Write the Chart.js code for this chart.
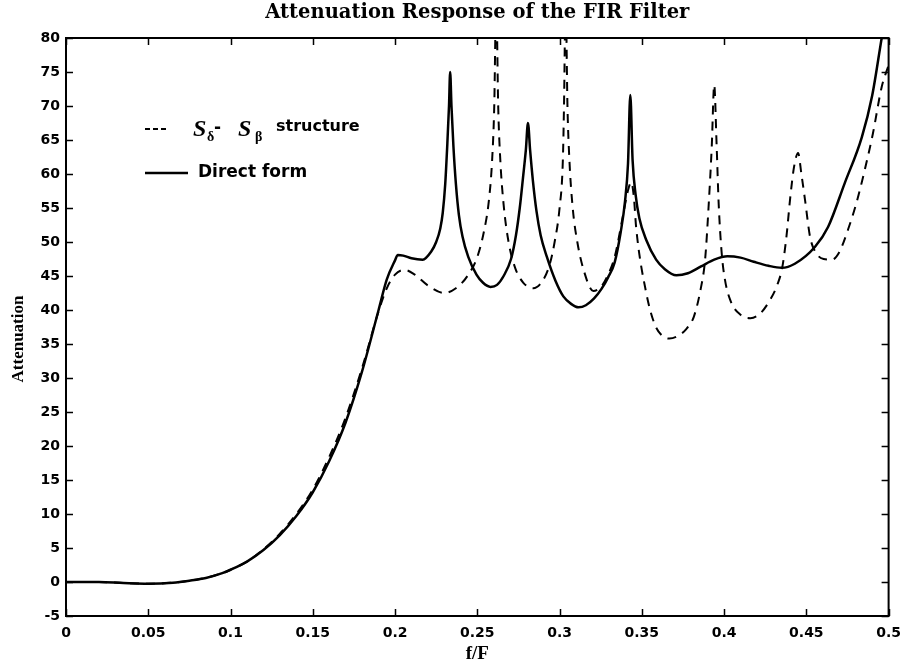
<!DOCTYPE html>
<html>
<head>
<meta charset="utf-8">
<title>Attenuation Response of the FIR Filter</title>
<script src="https://cdn.jsdelivr.net/npm/chart.js@4/dist/chart.umd.min.js"></script>
<style>
  html, body { margin: 0; padding: 0; background: #ffffff; }
  #wrap { width: 910px; height: 664px; }
</style>
</head>
<body>
<div id="wrap"><canvas id="chart" width="910" height="664"></canvas></div>
<script>
// Normalised frequency f/F and attenuation (dB) of the direct-form filter
const directFreq = [0, 0.02, 0.035, 0.05, 0.065, 0.075, 0.085, 0.095, 0.1, 0.11, 0.12, 0.13, 0.14, 0.15, 0.16, 0.17, 0.18, 0.19, 0.195, 0.2, 0.2017, 0.205, 0.21, 0.2168, 0.222, 0.225, 0.2275, 0.229, 0.2305, 0.2318, 0.2328, 0.2335, 0.2343, 0.2355, 0.237, 0.2388, 0.241, 0.2445, 0.2495, 0.2535, 0.258, 0.262, 0.266, 0.2705, 0.2735, 0.2758, 0.2778, 0.2795, 0.2808, 0.2821, 0.2838, 0.286, 0.2885, 0.2923, 0.2975, 0.3023, 0.307, 0.3115, 0.316, 0.321, 0.3255, 0.3295, 0.3335, 0.3372, 0.3398, 0.3416, 0.343, 0.3444, 0.3462, 0.3485, 0.3527, 0.3587, 0.364, 0.371, 0.378, 0.386, 0.394, 0.402, 0.41, 0.418, 0.427, 0.435, 0.443, 0.4553, 0.4632, 0.4734, 0.4837, 0.49, 0.4958, 0.5];
const directAtten = [0, 0, -0.15, -0.25, -0.1, 0.2, 0.6, 1.3, 1.8, 3.0, 4.7, 6.9, 9.7, 13.2, 17.8, 23.5, 31, 40, 44.5, 47.3, 48.1, 48, 47.6, 47.4, 48.6, 50, 52, 54.3, 58.5, 64.5, 70, 75, 70, 64, 58.5, 54, 50.8, 47.8, 45.2, 44, 43.4, 43.7, 45, 47.5, 51, 55, 59.5, 63.5, 67.5, 63.5, 59, 54.5, 51, 47.8, 44.3, 42, 40.9, 40.4, 40.7, 41.7, 43.1, 44.8, 47, 51.5, 56, 61.5, 71.6, 62, 57, 53.5, 50.3, 47.4, 46, 45.1, 45.4, 46.4, 47.4, 47.9, 47.7, 47.1, 46.5, 46.2, 46.8, 49.3, 52.2, 58.7, 65.4, 71.5, 80, 86];

// Normalised frequency f/F and attenuation (dB) of the S-delta / S-beta structure
const structFreq = [0, 0.02, 0.035, 0.05, 0.065, 0.075, 0.085, 0.095, 0.1, 0.11, 0.12, 0.13, 0.14, 0.15, 0.16, 0.17, 0.18, 0.19, 0.195, 0.2, 0.2057, 0.212, 0.22, 0.2299, 0.237, 0.244, 0.25, 0.254, 0.257, 0.259, 0.2603, 0.2615, 0.2627, 0.264, 0.266, 0.269, 0.273, 0.278, 0.284, 0.29, 0.294, 0.297, 0.3, 0.302, 0.3027, 0.3037, 0.3048, 0.306, 0.308, 0.3108, 0.3145, 0.3205, 0.3255, 0.3295, 0.3335, 0.3388, 0.3415, 0.3436, 0.3452, 0.3466, 0.3527, 0.3575, 0.362, 0.3667, 0.372, 0.377, 0.3816, 0.3857, 0.3885, 0.3907, 0.3925, 0.394, 0.3955, 0.3967, 0.3985, 0.4005, 0.404, 0.41, 0.416, 0.422, 0.428, 0.4325, 0.4354, 0.438, 0.4402, 0.4425, 0.445, 0.447, 0.4493, 0.4523, 0.4565, 0.4605, 0.4655, 0.47, 0.4753, 0.4805, 0.4855, 0.4905, 0.4958, 0.5];
const structAtten = [0, 0, -0.15, -0.25, -0.1, 0.2, 0.6, 1.3, 1.8, 3.0, 4.8, 7.1, 10, 13.6, 18.4, 24.2, 31.5, 39.8, 43.2, 45.2, 45.9, 45.2, 43.6, 42.5, 43.2, 45, 47.8, 51.5, 56, 62, 70, 86, 70, 62, 55.5, 50, 46.2, 44, 43.2, 44.4, 46.7, 50, 55, 62, 70, 86, 70, 62, 55, 50, 46, 42.8, 43.5, 45.2, 47.8, 54.2, 57.5, 58.8, 56.5, 52, 42.5, 38.1, 36.3, 35.8, 36.2, 37.2, 39, 43, 47.5, 55.7, 64, 73.1, 64, 55.7, 48.5, 44.5, 41.3, 39.3, 38.8, 39.5, 41.5, 43.8, 46.3, 51, 56.5, 61, 63.1, 60, 56, 50.7, 48.2, 47.5, 47.4, 48.5, 51.8, 55.8, 60.6, 66, 72.8, 76];

// Axis ranges and tick steps
const freqTicks = { min: 0, max: 0.5, step: 0.05 };
const attenTicks = { min: -5, max: 80, step: 5 };

const chartTitle = 'Attenuation Response of the FIR Filter';

const toPoints = (xs, ys) => xs.map((x, i) => ({ x, y: ys[i] }));

const SANS = '"DejaVu Sans", sans-serif';
const SERIF = '"Liberation Serif", "Times New Roman", serif';
const WIDE_SERIF = '"DejaVu Serif", "Liberation Serif", serif';

// Box around the plot area with inward-pointing tick marks on all four sides
const frameTicks = {
  id: 'frameTicks',
  afterDatasetsDraw(chart) {
    const { ctx, chartArea: a, scales: { x, y } } = chart;
    const L = 7;
    ctx.save();
    ctx.strokeStyle = '#000';
    ctx.lineWidth = 1.5;
    ctx.beginPath();
    x.ticks.forEach(t => {
      const px = Math.round(x.getPixelForValue(t.value)) + 0.5;
      ctx.moveTo(px, a.bottom); ctx.lineTo(px, a.bottom - L);
      ctx.moveTo(px, a.top); ctx.lineTo(px, a.top + L);
    });
    y.ticks.forEach(t => {
      const py = Math.round(y.getPixelForValue(t.value)) + 0.5;
      ctx.moveTo(a.left, py); ctx.lineTo(a.left + L, py);
      ctx.moveTo(a.right, py); ctx.lineTo(a.right - L, py);
    });
    ctx.stroke();
    ctx.lineWidth = 2;
    ctx.strokeRect(a.left, a.top, a.right - a.left, a.bottom - a.top);
    ctx.restore();
  }
};

// Title centred over the plot, the y-axis label, and the legend
// in the upper-left of the plot with sub-scripted symbols
const annotations = {
  id: 'annotations',
  afterDraw(chart) {
    const { ctx, chartArea: a } = chart;
    ctx.save();
    ctx.fillStyle = '#000';
    ctx.strokeStyle = '#000';

    // title
    ctx.textAlign = 'center';
    ctx.textBaseline = 'middle';
    ctx.font = 'bold 19.5px ' + WIDE_SERIF;
    ctx.fillText(chartTitle, (a.left + a.right) / 2, 13);
    ctx.textAlign = 'left';
    ctx.textBaseline = 'alphabetic';

    // row 1: dashed sample and S_delta - S_beta structure
    const y1 = 129;
    ctx.lineWidth = 2;
    ctx.setLineDash([5, 3]);
    ctx.beginPath(); ctx.moveTo(145, y1); ctx.lineTo(166, y1); ctx.stroke();
    ctx.setLineDash([]);
    ctx.font = 'italic bold 24px ' + SERIF;
    ctx.fillText('S', 193, y1 + 7);
    ctx.font = 'bold 14px ' + SERIF;
    ctx.fillText('\u03B4', 207, y1 + 12);
    ctx.font = 'bold 17px ' + SANS;
    ctx.fillText('-', 214, y1 + 4);
    ctx.font = 'italic bold 24px ' + SERIF;
    ctx.fillText('S', 238, y1 + 7);
    ctx.font = 'bold 14px ' + SERIF;
    ctx.fillText('\u03B2', 255, y1 + 12);
    ctx.font = 'bold 16px ' + SANS;
    ctx.fillText('structure', 276, y1 + 2);

    // row 2: solid sample and Direct form
    const y2 = 173;
    ctx.lineWidth = 2.5;
    ctx.beginPath(); ctx.moveTo(145, y2); ctx.lineTo(188, y2); ctx.stroke();
    ctx.font = 'bold 17px ' + SANS;
    ctx.textBaseline = 'middle';
    ctx.fillText('Direct form', 198, y2);

    // vertical axis label
    ctx.translate(19, 339);
    ctx.rotate(-Math.PI / 2);
    ctx.textAlign = 'center';
    ctx.textBaseline = 'middle';
    ctx.font = 'bold 17px ' + SERIF;
    ctx.fillText('Attenuation', 0, 0);
    ctx.restore();
  }
};

new Chart(document.getElementById('chart'), {
  type: 'line',
  data: {
    datasets: [
      {
        label: 'Direct form',
        data: toPoints(directFreq, directAtten),
        borderColor: '#000',
        borderWidth: 2.5,
        pointRadius: 0,
        cubicInterpolationMode: 'monotone',
        order: 0
      },
      {
        label: 'S\u03B4 - S\u03B2 structure',
        data: toPoints(structFreq, structAtten),
        borderColor: '#000',
        borderWidth: 2,
        borderDash: [9, 7],
        pointRadius: 0,
        cubicInterpolationMode: 'monotone',
        order: 1
      }
    ]
  },
  options: {
    responsive: false,
    devicePixelRatio: 1,
    animation: false,
    layout: { padding: { left: 0, right: 16, top: 38, bottom: 0 } },
    plugins: {
      legend: { display: false },
      tooltip: { enabled: false },
      title: { display: false }
    },
    scales: {
      x: {
        type: 'linear',
        min: freqTicks.min,
        max: freqTicks.max,
        grid: { display: false, drawTicks: false },
        border: { display: false },
        ticks: {
          stepSize: freqTicks.step,
          color: '#000',
          padding: 9,
          maxRotation: 0,
          autoSkip: false,
          font: { family: SANS, size: 14, weight: 'bold' },
          callback: v => String(+v.toFixed(2))
        },
        title: {
          display: true,
          text: 'f/F',
          color: '#000',
          font: { family: SERIF, size: 19, weight: 'bold', lineHeight: 1 },
          padding: { top: 0, bottom: 0 }
        },
        afterFit: s => { s.height = 48; }
      },
      y: {
        type: 'linear',
        min: attenTicks.min,
        max: attenTicks.max,
        grid: { display: false, drawTicks: false },
        border: { display: false },
        ticks: {
          stepSize: attenTicks.step,
          color: '#000',
          padding: 6,
          autoSkip: false,
          font: { family: SANS, size: 14, weight: 'bold' }
        },
        afterFit: s => { s.width = 66; }
      }
    }
  },
  plugins: [frameTicks, annotations]
});
</script>
</body>
</html>
